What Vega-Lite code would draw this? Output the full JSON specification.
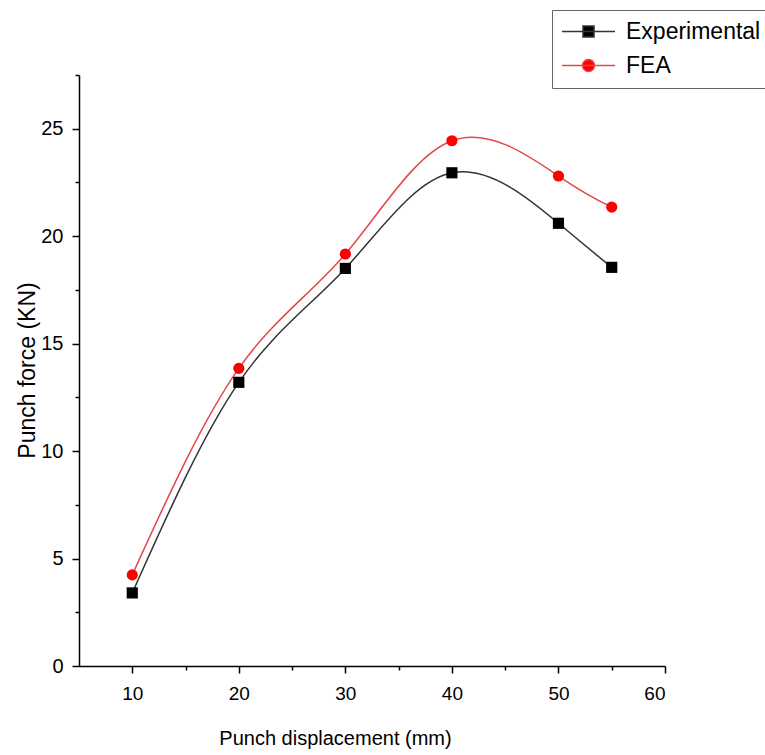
{
  "$schema": "https://vega.github.io/schema/vega-lite/v6.json",
  "width": 586,
  "height": 591,
  "autosize": {"type": "none"},
  "padding": {"left": 79, "top": 75, "right": 100, "bottom": 89},
  "background": "white",
  "config": {"view": {"stroke": null}, "axis": {"grid": false}},
  "data": {
    "values": [
      {"disp": 10, "force": 3.4, "series": "Experimental"},
      {"disp": 20, "force": 13.2, "series": "Experimental"},
      {"disp": 30, "force": 18.5, "series": "Experimental"},
      {"disp": 40, "force": 22.95, "series": "Experimental"},
      {"disp": 50, "force": 20.6, "series": "Experimental"},
      {"disp": 55, "force": 18.55, "series": "Experimental"},
      {"disp": 10, "force": 4.24, "series": "FEA"},
      {"disp": 20, "force": 13.85, "series": "FEA"},
      {"disp": 30, "force": 19.17, "series": "FEA"},
      {"disp": 40, "force": 24.44, "series": "FEA"},
      {"disp": 50, "force": 22.8, "series": "FEA"},
      {"disp": 55, "force": 21.35, "series": "FEA"}
    ]
  },
  "encoding": {
    "x": {
      "field": "disp", "type": "quantitative",
      "scale": {"domain": [5, 60], "nice": false, "zero": false},
      "axis": {
        "values": [10, 15, 20, 25, 30, 35, 40, 45, 50, 55, 60],
        "labelExpr": "datum.value % 10 === 0 ? datum.label : ''",
        "tickSize": {"condition": {"test": "datum.value % 10 === 0", "value": 7}, "value": 4},
        "tickWidth": 1.5, "tickColor": "black",
        "domainColor": "black", "domainWidth": 1.5,
        "labelFont": "Liberation Sans", "labelFontSize": 19, "labelColor": "black", "labelPadding": 11,
        "title": "Punch displacement (mm)",
        "titleFont": "Liberation Sans", "titleFontSize": 20, "titleFontWeight": "normal", "titleColor": "black",
        "titleX": 256, "titleY": 72, "titleBaseline": "middle", "titleAlign": "center"
      }
    },
    "y": {
      "field": "force", "type": "quantitative",
      "scale": {"domain": [0, 27.5], "nice": false},
      "axis": {
        "values": [0, 2.5, 5, 7.5, 10, 12.5, 15, 17.5, 20, 22.5, 25, 27.5],
        "labelExpr": "datum.value % 5 === 0 ? datum.label : ''",
        "tickSize": {"condition": {"test": "datum.value % 5 === 0", "value": 7}, "value": 4},
        "tickWidth": 1.5, "tickColor": "black",
        "domainColor": "black", "domainWidth": 1.5,
        "labelFont": "Liberation Sans", "labelFontSize": 20, "labelColor": "black", "labelPadding": 9,
        "title": "Punch force (KN)",
        "titleFont": "Liberation Sans", "titleFontSize": 23, "titleFontWeight": "normal", "titleColor": "black",
        "titleX": -52, "titleY": 295, "titleAngle": -90, "titleBaseline": "middle", "titleAlign": "center"
      }
    }
  },
  "layer": [
    {
      "mark": {"type": "line", "interpolate": "natural", "strokeWidth": 1.5},
      "encoding": {
        "stroke": {
          "field": "series", "type": "nominal",
          "scale": {"domain": ["Experimental", "FEA"], "range": ["#333333", "#e2474b"]},
          "legend": {
            "title": null,
            "orient": "none", "legendX": 473, "legendY": -65,
            "padding": 10,
            "strokeColor": "#666666",
            "fillColor": "white",
            "symbolSize": 400,
            "symbolOffset": 15,
            "labelOffset": 26,
            "rowPadding": 10,
            "labelFont": "Liberation Sans", "labelFontSize": 23, "labelColor": "black",
            "encode": {
              "symbols": {
                "update": {
                  "shape": {"signal": "datum.value === 'Experimental' ? 'M-2.65,0H2.65M-0.55,-0.55H0.55V0.55H-0.55Z' : 'M-2.65,0H2.65M0.6,0A0.6,0.6 0 1,1 -0.6,0A0.6,0.6 0 1,1 0.6,0Z'"},
                  "fill": {"signal": "datum.value === 'Experimental' ? '#000000' : '#ff0000'"},
                  "fillOpacity": {"value": 1},
                  "strokeWidth": {"value": 1.5}
                }
              }
            }
          }
        }
      }
    },
    {
      "transform": [{"filter": "datum.series === 'Experimental'"}],
      "mark": {"type": "point", "shape": "square", "filled": true, "opacity": 1, "color": "#000000", "size": 125}
    },
    {
      "transform": [{"filter": "datum.series === 'FEA'"}],
      "mark": {"type": "point", "shape": "circle", "filled": true, "opacity": 1, "color": "#ff0000", "size": 125}
    }
  ]
}
